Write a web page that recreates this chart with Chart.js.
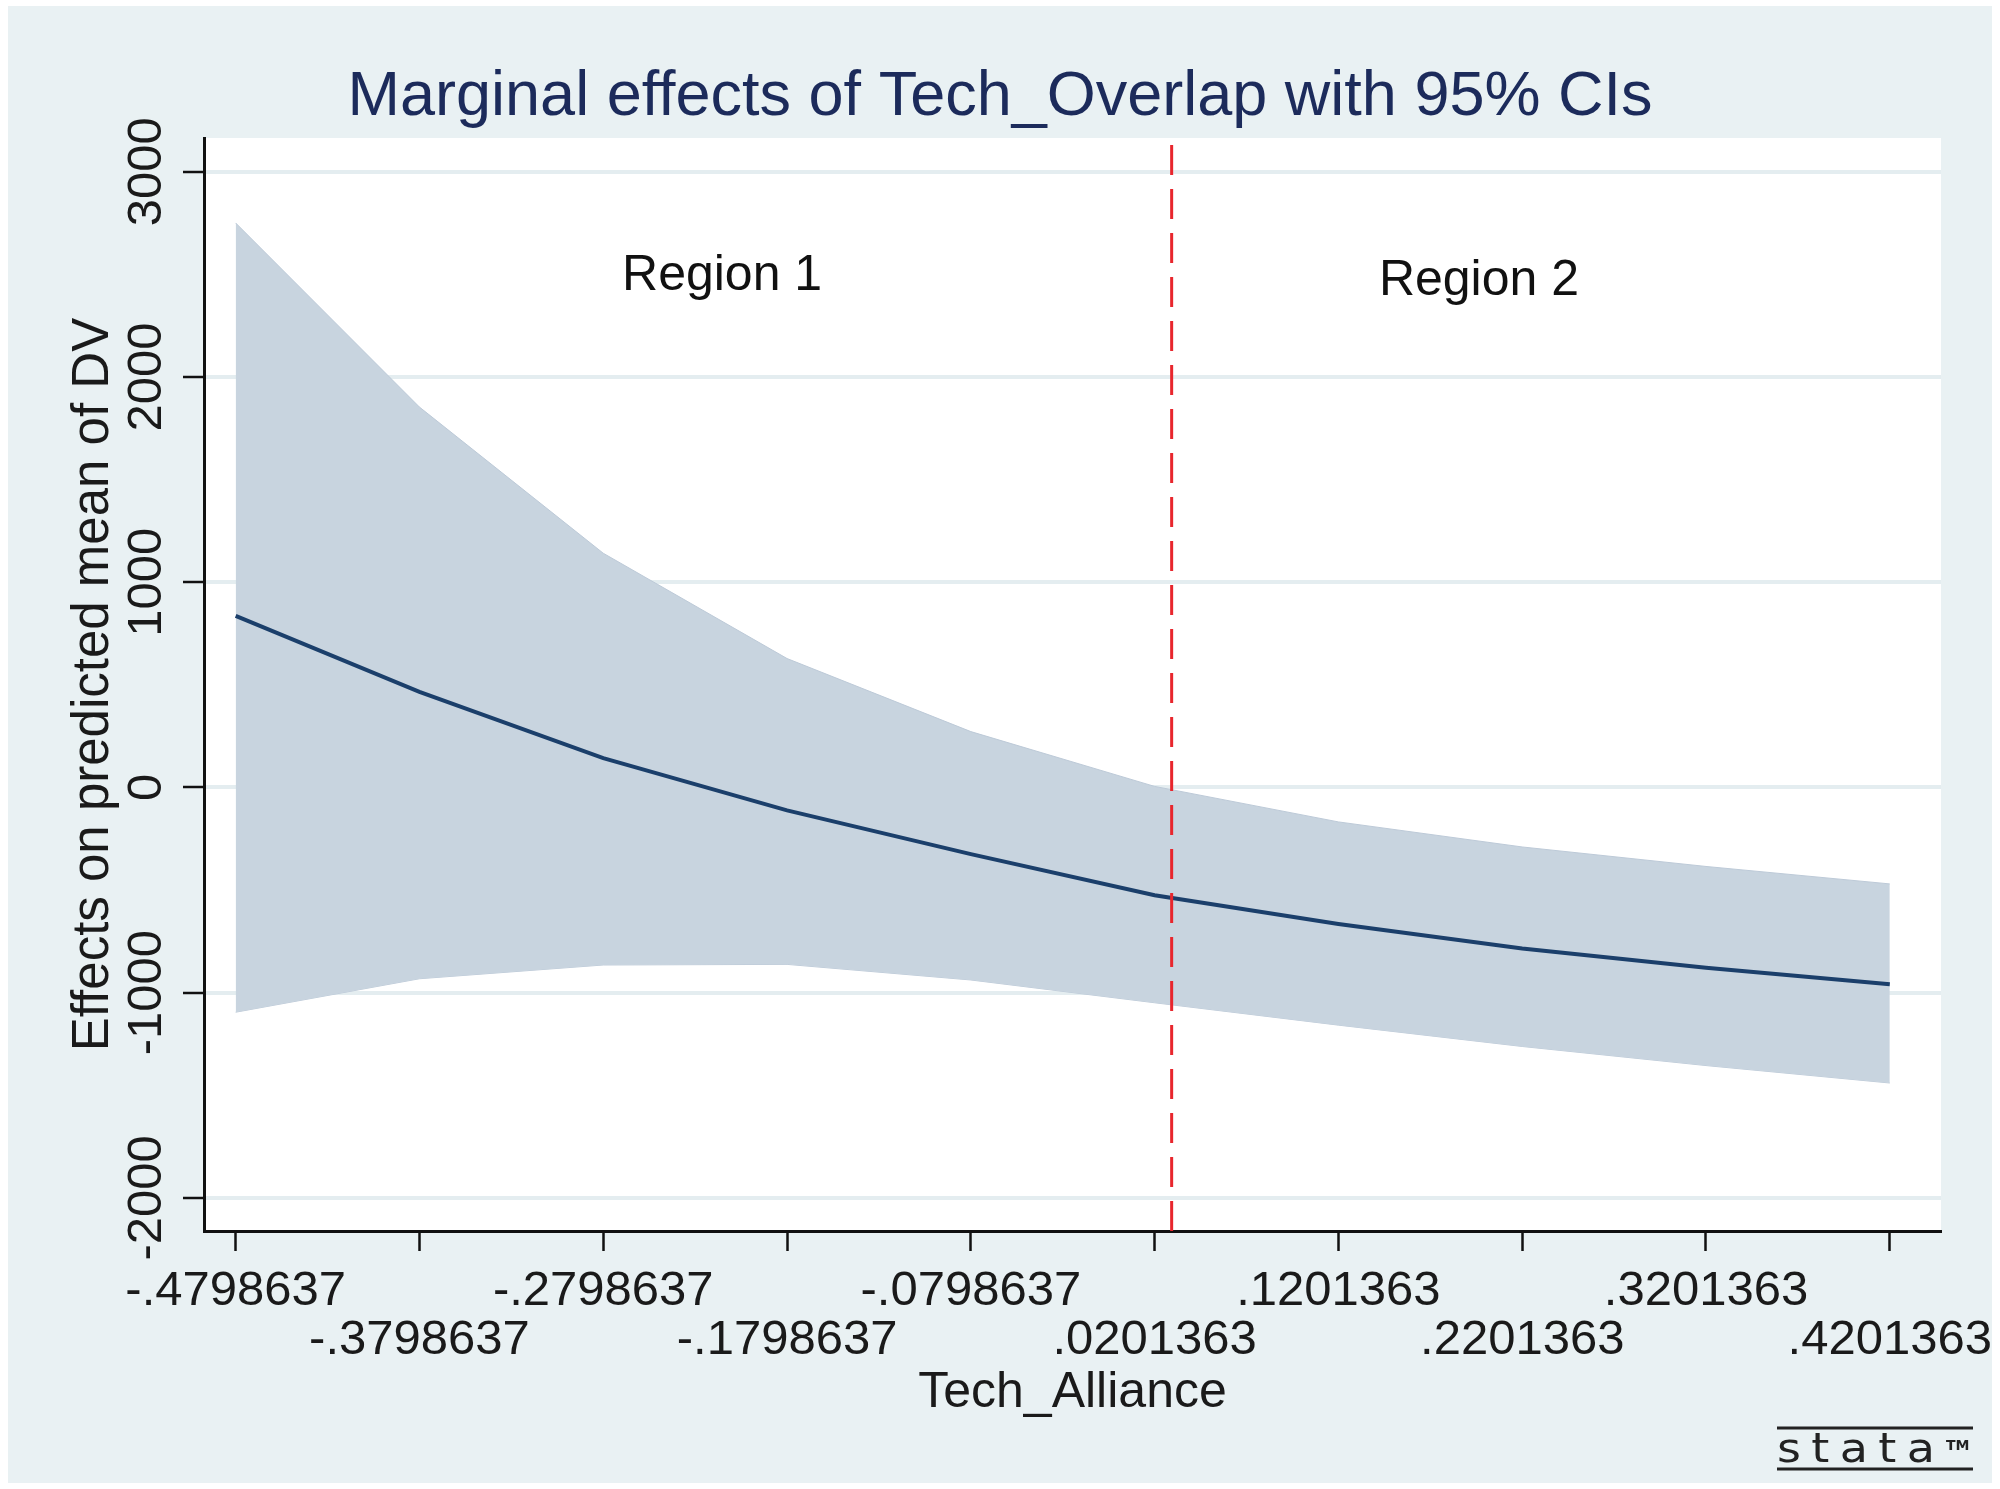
<!DOCTYPE html>
<html>
<head>
<meta charset="utf-8">
<script src="https://cdn.jsdelivr.net/npm/chart.js@4.4.1/dist/chart.umd.min.js"></script>
<style>
    html, body { margin: 0; padding: 0; background: #fff; }
    #wrap { width: 2000px; height: 1489px; }
</style>
</head>
<body>
<div id="wrap"><canvas id="chart" width="2000" height="1489"></canvas></div>
<script>
const xValues = [-0.4798637, -0.3798637, -0.2798637, -0.1798637, -0.0798637, 0.0201363, 0.1201363, 0.2201363, 0.3201363, 0.4201363];
const xTickLabels = ['-.4798637', '-.3798637', '-.2798637', '-.1798637', '-.0798637', '.0201363', '.1201363', '.2201363', '.3201363', '.4201363'];
const meanEffect = [836, 466, 143, -112, -325, -525, -665, -785, -878, -959];
const upperCI = [2750, 1853, 1141, 628, 272, 5, -168, -290, -385, -470];
const lowerCI = [-1095, -932, -865, -862, -938, -1049, -1158, -1262, -1355, -1440];
const yTicks = [-2000, -1000, 0, 1000, 2000, 3000];
const yMin = -2161;
const yMax = 3164;
const xMin = -0.4971;
const xMax = 0.4480;
const jnPoint = 0.0294;
const regionLabels = ['Region 1', 'Region 2'];
const regionX = [-0.2152, 0.1966];
const regionY = [2489, 2467];

const FONT = '"Liberation Sans", Arial, Helvetica, sans-serif';
const TEXT = '#1a1a1a';

function points(ys) {
    return xValues.map((x, i) => ({ x, y: ys[i] }));
}

const stataDecor = {
    id: 'stataDecor',
    beforeDraw(chart) {
        const { ctx, chartArea: a } = chart;
        ctx.save();
        ctx.fillStyle = '#ffffff';
        ctx.fillRect(0, 0, chart.width, chart.height);
        ctx.fillStyle = '#e9f1f3';
        ctx.fillRect(8, 6, chart.width - 16, chart.height - 12);
        ctx.fillStyle = '#ffffff';
        ctx.fillRect(a.left, a.top, a.right - a.left, a.bottom - a.top);
        ctx.restore();
    },
    afterDraw(chart) {
        const { ctx } = chart;
        const xs = chart.scales.x;
        const ys = chart.scales.y;
        ctx.save();

        // vertical y tick labels, like Stata
        ctx.fillStyle = TEXT;
        ctx.font = `49px ${FONT}`;
        ctx.textAlign = 'center';
        ctx.textBaseline = 'middle';
        yTicks.forEach((v) => {
            ctx.save();
            ctx.translate(147, ys.getPixelForValue(v));
            ctx.rotate(-Math.PI / 2);
            ctx.fillText(String(v), 0, 0);
            ctx.restore();
        });

        // region labels
        ctx.fillStyle = '#111111';
        ctx.font = `50px ${FONT}`;
        regionLabels.forEach((t, i) => {
            ctx.fillText(t, xs.getPixelForValue(regionX[i]), ys.getPixelForValue(regionY[i]));
        });

        // stata logo
        ctx.strokeStyle = '#222';
        ctx.lineWidth = 3;
        ctx.beginPath();
        ctx.moveTo(1777, 1428);
        ctx.lineTo(1973, 1428);
        ctx.moveTo(1777, 1469);
        ctx.lineTo(1973, 1469);
        ctx.stroke();
        ctx.fillStyle = '#222';
        ctx.textAlign = 'left';
        ctx.textBaseline = 'alphabetic';
        ctx.save();
        ctx.translate(1777, 1462);
        ctx.scale(1.15, 1);
        ctx.font = `40px "DejaVu Sans", sans-serif`;
        ctx.letterSpacing = '9px';
        ctx.fillText('stata', 0, 0);
        ctx.restore();
        ctx.font = `bold 14px "DejaVu Sans", sans-serif`;
        ctx.fillText('TM', 1946, 1450);
        ctx.restore();
    },
};

new Chart(document.getElementById('chart'), {
    type: 'line',
    data: {
        datasets: [
            {
                label: 'Region boundary',
                data: [{ x: jnPoint, y: yMin }, { x: jnPoint, y: yMax }],
                borderColor: '#e8262d',
                borderWidth: 3,
                borderDash: [30, 14],
                pointRadius: 0,
                fill: false,
            },
            {
                label: 'Marginal effect',
                data: points(meanEffect),
                borderColor: '#1b3f6b',
                borderWidth: 4,
                pointRadius: 0,
                tension: 0,
                fill: false,
            },
            {
                label: 'Upper 95% CI',
                data: points(upperCI),
                borderColor: '#bdcad8',
                backgroundColor: '#c8d4df',
                borderWidth: 1,
                pointRadius: 0,
                tension: 0,
                fill: '+1',
            },
            {
                label: 'Lower 95% CI',
                data: points(lowerCI),
                borderColor: '#bdcad8',
                borderWidth: 1,
                pointRadius: 0,
                tension: 0,
                fill: false,
            },
        ],
    },
    options: {
        responsive: false,
        animation: false,
        events: [],
        layout: {
            padding: { left: 59, right: 59, top: 0, bottom: 0 },
        },
        plugins: {
            legend: { display: false },
            tooltip: { enabled: false },
            title: {
                display: true,
                text: 'Marginal effects of Tech_Overlap with 95% CIs',
                color: '#1c2b5b',
                font: { family: FONT, size: 63, weight: 'normal' },
                padding: { top: 60, bottom: 2.4 },
            },
        },
        scales: {
            x: {
                type: 'linear',
                min: xMin,
                max: xMax,
                afterBuildTicks(scale) {
                    scale.ticks = xValues.map((v) => ({ value: v }));
                },
                afterFit(scale) {
                    scale.height = 258;
                    scale.paddingLeft = 0;
                    scale.paddingRight = 0;
                },
                ticks: {
                    autoSkip: false,
                    minRotation: 0,
                    maxRotation: 0,
                    padding: 15,
                    color: TEXT,
                    font: { family: FONT, size: 49, lineHeight: 1.02 },
                    callback(value, index) {
                        return index % 2 === 0 ? [xTickLabels[index], ''] : ['', xTickLabels[index]];
                    },
                },
                grid: {
                    drawOnChartArea: false,
                    tickLength: 20,
                    tickWidth: 2.5,
                    tickColor: '#111',
                },
                border: { color: '#111', width: 3 },
                title: {
                    display: true,
                    text: 'Tech_Alliance',
                    color: TEXT,
                    font: { family: FONT, size: 50 },
                    padding: { top: 0, bottom: 66 },
                },
            },
            y: {
                min: yMin,
                max: yMax,
                afterBuildTicks(scale) {
                    scale.ticks = yTicks.map((v) => ({ value: v }));
                },
                afterFit(scale) {
                    scale.width = 145;
                },
                ticks: { display: false },
                grid: {
                    color: '#e4edf0',
                    lineWidth: 4,
                    tickLength: 21,
                    tickWidth: 2.5,
                    tickColor: '#111',
                },
                border: { color: '#111', width: 3 },
                title: {
                    display: true,
                    text: 'Effects on predicted mean of DV',
                    color: TEXT,
                    font: { family: FONT, size: 51 },
                    padding: { top: 4, bottom: 0 },
                },
            },
        },
    },
    plugins: [stataDecor],
});
</script>
</body>
</html>
